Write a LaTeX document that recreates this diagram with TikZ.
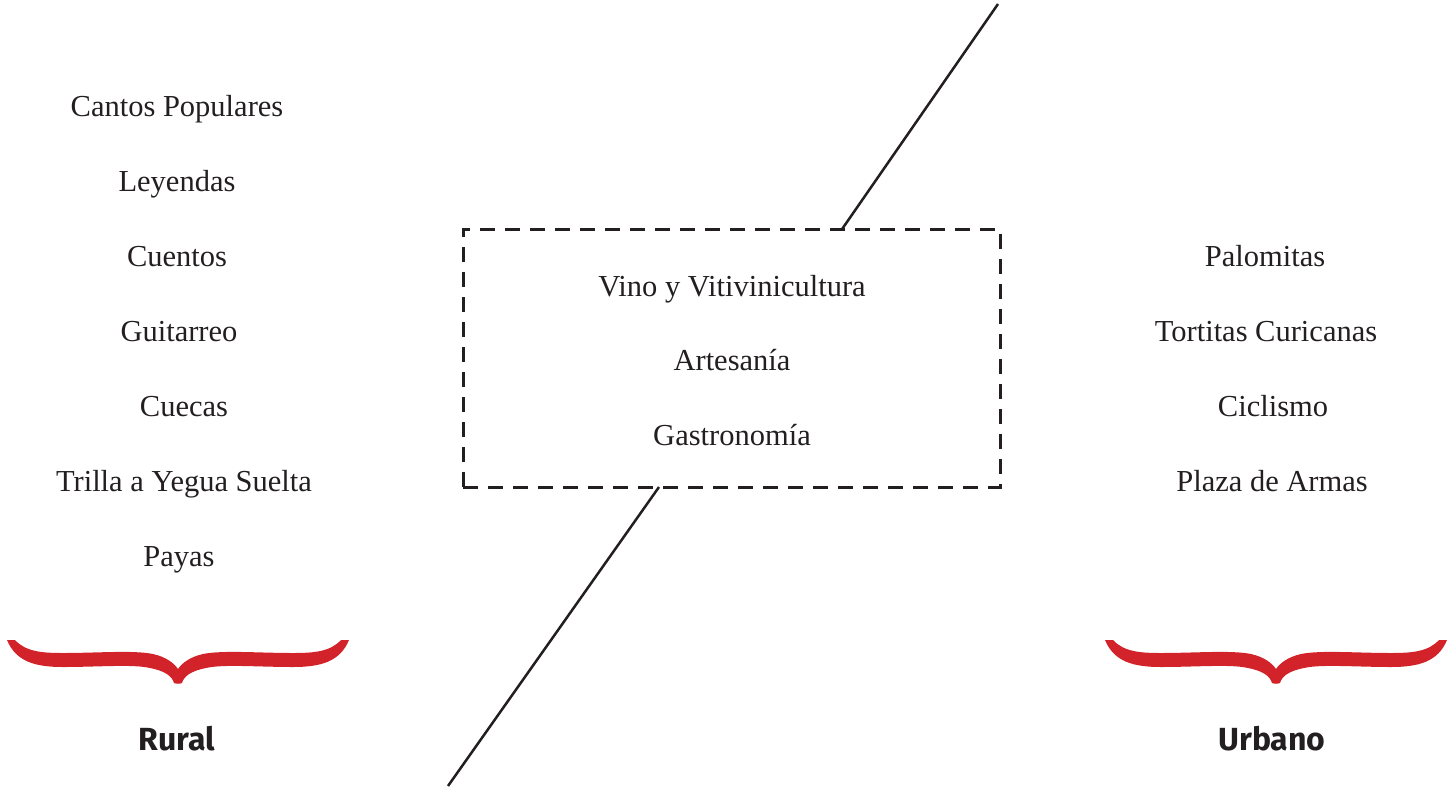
\documentclass[tikz,border=0pt]{standalone}
\usepackage{fontspec}
\setmainfont{Liberation Serif}
\newfontfamily\labelfont{Fira Sans}
\usetikzlibrary{calc}
\definecolor{bracered}{HTML}{D2232A}
\definecolor{ink}{HTML}{231F20}
\tikzset{
  bracepic/.pic={
    \fill[bracered] (-171,-44) .. controls (-162,-22) and (-142,-17) .. (-115,-17)
      .. controls (-80,-17) and (-45,-20) .. (-28,-16)
      .. controls (-13,-13) and (-6,-8) .. (-4,-1)
      .. controls (-2,0) and (2,0) .. (4,-1)
      .. controls (6,-8) and (13,-13) .. (28,-16)
      .. controls (45,-20) and (80,-17) .. (115,-17)
      .. controls (142,-17) and (162,-22) .. (171,-44)
      -- (163,-44)
      .. controls (152,-32) and (135,-31) .. (115,-31)
      .. controls (80,-31) and (45,-34) .. (25,-30)
      .. controls (12,-27) and (4,-21) .. (0,-15)
      .. controls (-4,-21) and (-12,-27) .. (-25,-30)
      .. controls (-45,-34) and (-80,-31) .. (-115,-31)
      .. controls (-135,-31) and (-152,-32) .. (-163,-44) -- cycle;
  }
}
\begin{document}
\begin{tikzpicture}[x=1pt,y=-1pt,
  item/.style={anchor=base, inner sep=0pt, font=\fontsize{30.5}{36}\selectfont, text=ink},
  cat/.style={anchor=base, inner sep=0pt, font=\labelfont\bfseries\fontsize{32}{38}\selectfont, text=ink},
  dashbox/.style={draw=ink, line width=3pt, dash pattern=on 15pt off 10pt,
    minimum width=537pt, minimum height=258pt, inner sep=0pt, outer sep=0pt},
  slash/.style={draw=ink, line width=2.5pt}]
\useasboundingbox (0,0) rectangle (1448,790);

% central dashed box
\node[dashbox] (box) at (731.5,358) {};
\node[item] (vino) at (732,296) {Vino y Vitivinicultura};
\node[item] (arte) at (732,370) {Artesanía};
\node[item] (gastro) at (732,445) {Gastronomía};

% diagonal line
\coordinate (topend) at (998,4);
\coordinate (bottomend) at (448,786);
\draw[slash] (topend) -- ($(box.north west)!0.706!(box.north east)$);
\draw[slash] ($(box.south west)!0.365!(box.south east)$) -- (bottomend);

% left column
\node[item] (l1) at (177,116) {Cantos Populares};
\node[item] (l2) at (177,191) {Leyendas};
\node[item] (l3) at (177,266) {Cuentos};
\node[item] (l4) at (179,341) {Guitarreo};
\node[item] (l5) at (184,416) {Cuecas};
\node[item] (l6) at (184,491) {Trilla a Yegua Suelta};
\node[item] (l7) at (179,566) {Payas};

% right column
\node[item] (r1) at (1265,266) {Palomitas};
\node[item] (r2) at (1266,341) {Tortitas Curicanas};
\node[item] (r3) at (1273,416) {Ciclismo};
\node[item] (r4) at (1272,491) {Plaza de Armas};

% braces
\pic at (178,684) {bracepic};
\pic at (1276,684) {bracepic};

% category labels
\node[cat] (rural) at (177,750) {Rural};
\node[cat] (urbano) at (1272,750) {Urbano};
\end{tikzpicture}
\end{document}
